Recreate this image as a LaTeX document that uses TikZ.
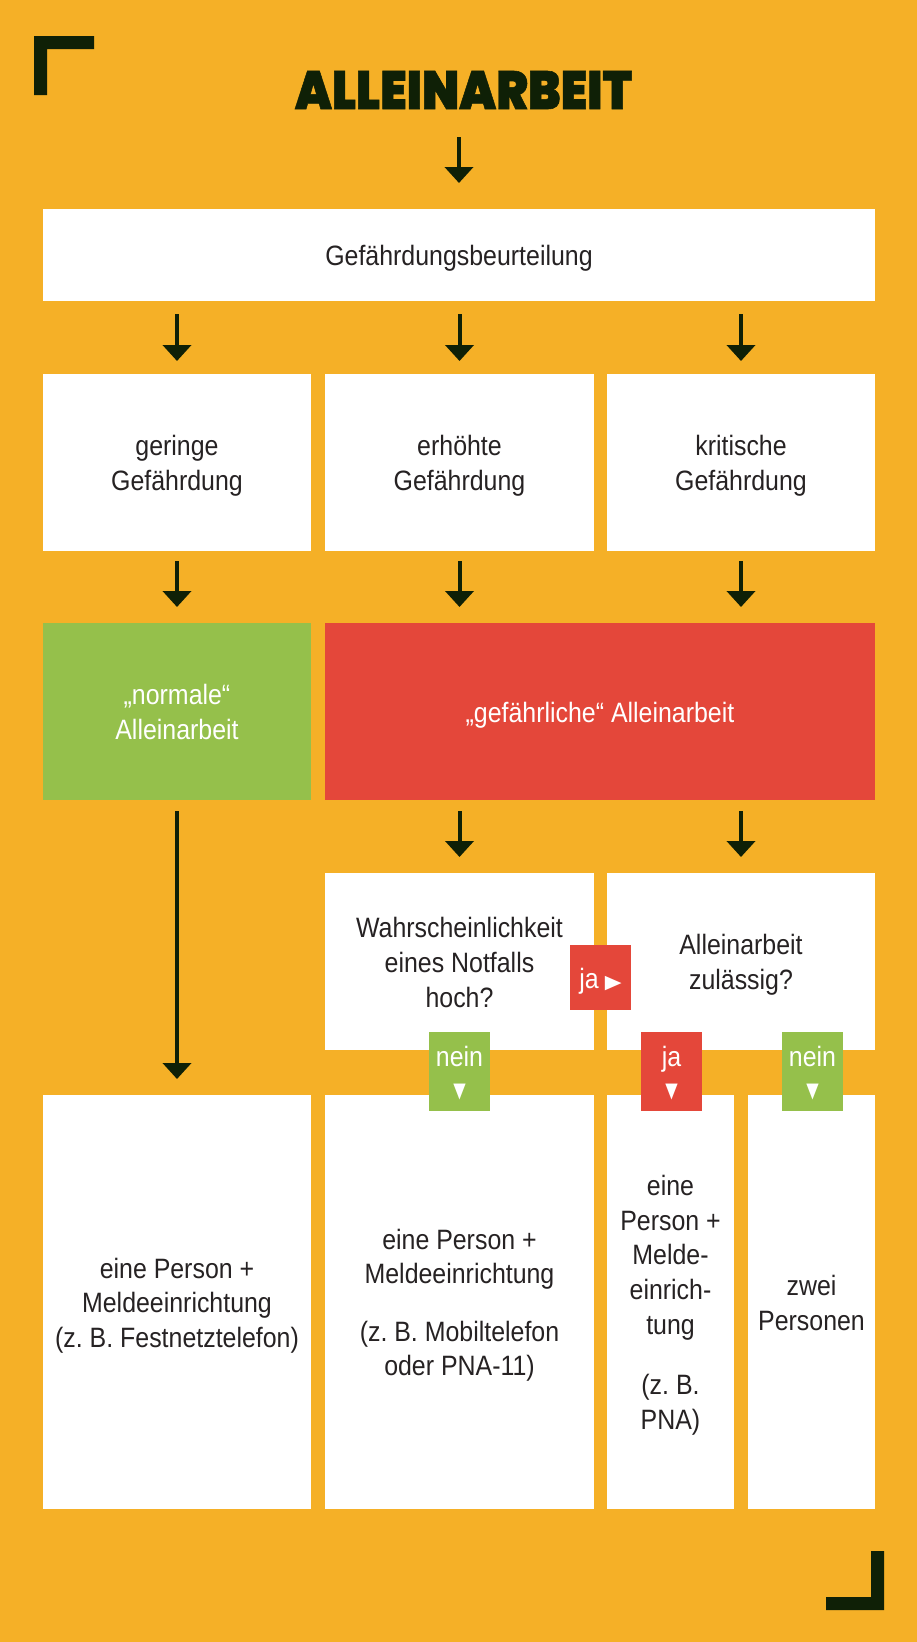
\documentclass[tikz,border=0pt]{standalone}
\usepackage{graphicx}
\usepackage{fontspec}
\setmainfont{Liberation Sans}[FakeStretch=0.89]
\newfontfamily\titlefont{Poppins Black}[FakeBold=1]
\newfontfamily\symfont{DejaVu Sans}
\usetikzlibrary{arrows.meta}
\definecolor{bg}{HTML}{F5B027}
\definecolor{ink}{HTML}{0F2006}
\definecolor{txt}{HTML}{262223}
\definecolor{grn}{HTML}{95C04B}
\definecolor{rd}{HTML}{E4473A}
\newcommand{\Lh}{\rule{0pt}{27pt}}
\newcommand{\Lt}{\rule[-6pt]{0pt}{6pt}}
\newcommand{\dtri}{{\symfont\fontsize{19}{19}\selectfont\scalebox{0.85}[1.1]{▼}}}
\newcommand{\rtri}{{\symfont\fontsize{19}{19}\selectfont\scalebox{1.15}[1]{▶}}}
\frenchspacing
\begin{document}
\begin{tikzpicture}[x=1pt,y=-1pt,
  wbox/.style={rectangle,inner sep=0pt,outer sep=0pt,fill=white,text=txt,align=center,font=\fontsize{28}{35}\selectfont},
  gbox/.style={wbox,fill=grn,text=white},
  rbox/.style={wbox,fill=rd,text=white},
  tagbox/.style={rectangle,inner sep=0pt,outer sep=0pt,align=center,text=white,minimum width=61pt,font=\fontsize{28}{31}\selectfont},
  flow/.style={draw=ink,line width=4pt,-{Triangle[width=28pt,length=16pt]}}]
\fill[bg] (0,0) rectangle (917,1642);
\useasboundingbox (0,0) rectangle (917,1642);
% corner brackets
\fill[ink] (34,36) -- (94,36) -- (94,49) -- (47,49) -- (47,95) -- (34,95) -- cycle;
\fill[ink] (884,1610) -- (826,1610) -- (826,1597) -- (871,1597) -- (871,1551) -- (884,1551) -- cycle;
% title
\node[inner sep=0pt,outer sep=0pt,text=ink] (title) at (463.5,90) {\resizebox{337pt}{38pt}{\titlefont ALLEINARBEIT}};
% boxes
\node[wbox,minimum width=832pt,minimum height=92pt] (gef) at (459,255) {\Lh Gefährdungsbeurteilung\Lt};
\node[wbox,minimum width=268pt,minimum height=177pt] (g1) at (177,462.5) {\Lh geringe\\Gefährdung\Lt};
\node[wbox,minimum width=269pt,minimum height=177pt] (g2) at (459.5,462.5) {\Lh erhöhte\\Gefährdung\Lt};
\node[wbox,minimum width=268pt,minimum height=177pt] (g3) at (741,462.5) {\Lh kritische\\Gefährdung\Lt};
\node[gbox,minimum width=268pt,minimum height=177pt] (norm) at (177,711.5) {\Lh „normale“\\Alleinarbeit\Lt};
\node[rbox,minimum width=550pt,minimum height=177pt] (dang) at (600,711.5) {\Lh „gefährliche“ Alleinarbeit\Lt};
\node[wbox,minimum width=269pt,minimum height=177pt] (q1) at (459.5,961.5) {\Lh Wahrscheinlichkeit\\eines Notfalls\\hoch?\Lt};
\node[wbox,minimum width=268pt,minimum height=177pt] (q2) at (741,961.5) {\Lh Alleinarbeit\\zulässig?\Lt};
\node[wbox,minimum width=268pt,minimum height=414pt,font=\fontsize{28}{34.5}\selectfont] (e1) at (177,1302) {\Lh eine Person +\\Meldeeinrichtung\\(z. B. Festnetztelefon)\Lt};
\node[wbox,minimum width=269pt,minimum height=414pt,font=\fontsize{28}{34.7}\selectfont] (e2) at (459.5,1302) {\Lh eine Person +\\Meldeeinrichtung\\[22.7pt](z. B. Mobiltelefon\\oder PNA-11)\Lt};
\node[wbox,minimum width=127pt,minimum height=414pt,font=\fontsize{28}{34.75}\selectfont] (e3) at (670.5,1302) {\Lh eine\\Person +\\Melde-\\einrich-\\tung\\[25.75pt](z. B.\\PNA)\Lt};
\node[wbox,minimum width=127pt,minimum height=414pt] (e4) at (811.5,1302) {\Lh zwei\\Personen\Lt};
% tags
\node[tagbox,fill=rd,minimum height=65pt] (ja1) at (600.5,977.5) {\Lh ja\hspace{6pt}\rtri\Lt};
\node[tagbox,fill=grn,minimum height=79pt] (nein1) at (459.5,1071.5) {\Lh nein\\\dtri\Lt};
\node[tagbox,fill=rd,minimum height=79pt] (ja2) at (671.5,1071.5) {\Lh ja\\\dtri\Lt};
\node[tagbox,fill=grn,minimum height=79pt] (nein2) at (812.5,1071.5) {\Lh nein\\\dtri\Lt};
% connectors
\draw[flow,shorten <=28pt,shorten >=26pt] (title.south -| gef.north) -- (gef.north);
\foreach \n in {g1,g2,g3}
  \draw[flow,shorten <=13pt,shorten >=13pt] (gef.south -| \n.north) -- (\n.north);
\draw[flow,shorten <=10pt,shorten >=16pt] (g1.south) -- (norm.north);
\draw[flow,shorten <=10pt,shorten >=16pt] (g2.south) -- (g2.south |- dang.north);
\draw[flow,shorten <=10pt,shorten >=16pt] (g3.south) -- (g3.south |- dang.north);
\draw[flow,shorten <=11pt,shorten >=16pt] (dang.south -| q1.north) -- (q1.north);
\draw[flow,shorten <=11pt,shorten >=16pt] (dang.south -| q2.north) -- (q2.north);
\draw[flow,shorten <=11pt,shorten >=16pt] (norm.south) -- (e1.north);
\end{tikzpicture}
\end{document}
